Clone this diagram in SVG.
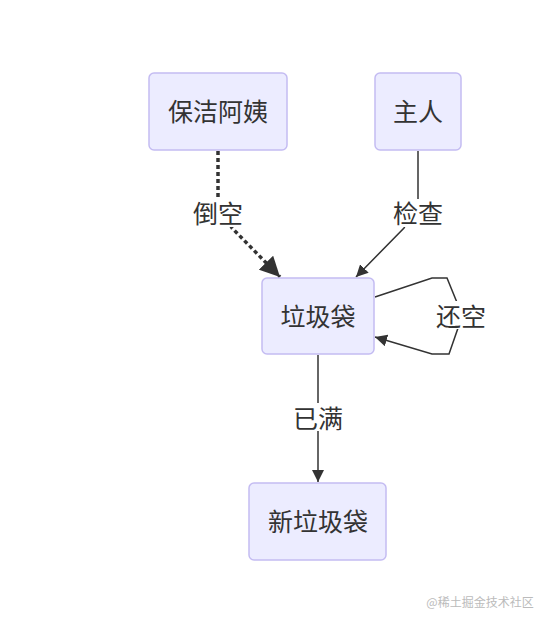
<svg xmlns="http://www.w3.org/2000/svg" width="548" height="624" viewBox="0 0 548 624">
<style>
.node rect{fill:#ECECFF;stroke:#C4BCF2;stroke-width:1.5}
text{font-family:"Noto Sans CJK SC","Liberation Sans",sans-serif;fill:#333;text-anchor:middle;dominant-baseline:central}
.t{font-size:25px}
.edge{fill:none;stroke:#333;stroke-width:1.5}
.dash{fill:none;stroke:#333;stroke-width:3.5;stroke-dasharray:4 3}
.lbg{fill:#fff}
</style>
<defs>
<marker id="ah" markerUnits="userSpaceOnUse" markerWidth="12" markerHeight="12" refX="10" refY="5" orient="auto" viewBox="0 0 10 10">
<path d="M0,0 L10,5 L0,10 z" fill="#333"/>
</marker>
<marker id="ahBig" markerUnits="userSpaceOnUse" markerWidth="20" markerHeight="20" refX="10" refY="5" orient="auto" viewBox="0 0 10 10">
<path d="M0,0 L10,5 L0,10 z" fill="#333"/>
</marker>
</defs>
<rect width="548" height="624" fill="#fff"/>
<g id="connectors">
<path class="dash" d="M218,151 L218,200 L232,228 L280,277" marker-end="url(#ahBig)"/>
<path class="edge" d="M418,151 L418,200 L404,228 L356,277" marker-end="url(#ah)"/>
<path class="edge" d="M375,297 L432,278 L447,278 L458,305 L458,328 L449,354 L432,354 L375,337" marker-end="url(#ah)"/>
<path class="edge" d="M318,355 L318,482" marker-end="url(#ah)"/>
<g id="label-daokong"><rect class="lbg" x="192" y="199" width="52" height="28"/><text class="t" x="218" y="212">倒空</text></g>
<g id="label-jiancha"><rect class="lbg" x="392" y="199" width="52" height="28"/><text class="t" x="418" y="212">检查</text></g>
<g id="label-huankong"><rect class="lbg" x="435" y="301" width="52" height="28"/><text class="t" x="461" y="315">还空</text></g>
<g id="label-yiman"><rect class="lbg" x="292" y="403" width="52" height="28"/><text class="t" x="318" y="417">已满</text></g>
</g>
<g id="node-baojie" class="node"><rect x="149" y="73" width="138" height="77" rx="5"/><text class="t" x="218" y="110">保洁阿姨</text></g>
<g id="node-zhuren" class="node"><rect x="375" y="73" width="86" height="77" rx="5"/><text class="t" x="418" y="110">主人</text></g>
<g id="node-lajidai" class="node"><rect x="262" y="278" width="112" height="76" rx="5"/><text class="t" x="318" y="315">垃圾袋</text></g>
<g id="node-xinlajidai" class="node"><rect x="249" y="483" width="137" height="77" rx="5"/><text class="t" x="318" y="520">新垃圾袋</text></g>
<text x="480" y="601" style="font-size:12px;fill:#bbb">@稀土掘金技术社区</text>
</svg>
